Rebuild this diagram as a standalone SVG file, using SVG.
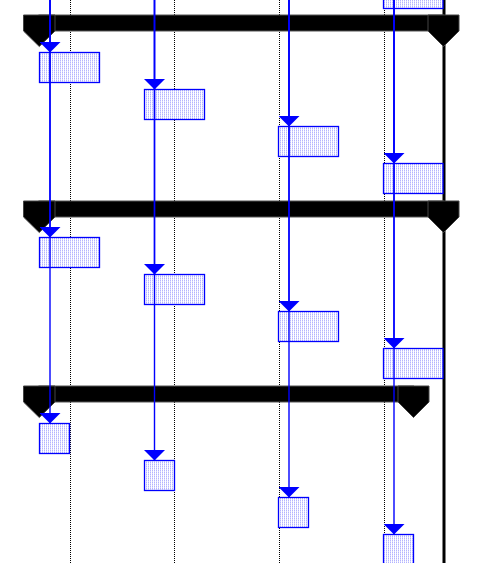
<svg xmlns="http://www.w3.org/2000/svg" width="477" height="563" viewBox="0 0 477 563">
<defs>
<pattern id="dots" width="2" height="2" patternUnits="userSpaceOnUse">
<rect width="2" height="2" fill="#ffffff"/>
<rect width="1" height="1" fill="#b4b4ff"/>
<rect y="1" width="1" height="1" fill="#dadaff"/>
</pattern>
<marker id="ah" viewBox="0 0 10.5 21" refX="10.5" refY="10.5" markerWidth="10.5" markerHeight="21" markerUnits="userSpaceOnUse" orient="auto">
<path d="M0,0 L10.5,10.5 L0,21 Z" fill="#0000ff"/>
</marker>
</defs>
<style>
.grid{stroke:#000;stroke-width:1;stroke-dasharray:1 1;fill:none}
.task{fill:url(#dots);stroke:#0000ff;stroke-width:1.3}
.bar{fill:#000;stroke:#555;stroke-width:1}
.cap{fill:#000;stroke:#444;stroke-width:1}
.conn{stroke:#0000ff;stroke-width:1.4;fill:none;marker-end:url(#ah)}
</style>
<rect width="477" height="563" fill="#ffffff"/>
<g id="grid">
<line class="grid" x1="70.5" y1="0" x2="70.5" y2="563"/>
<line class="grid" x1="174.5" y1="0" x2="174.5" y2="563"/>
<line class="grid" x1="279.5" y1="0" x2="279.5" y2="563"/>
<line class="grid" x1="384.5" y1="0" x2="384.5" y2="563"/>
</g>
<g id="deadline">
<line x1="444" y1="0" x2="444" y2="563" stroke="#000" stroke-width="3"/>
</g>
<g id="summary1">
<rect class="bar" x="39" y="15" width="404.5" height="16"/>
<polygon class="cap" points="23.5,15 55,15 55,31 39.25,46.5 23.5,31"/>
<polygon class="cap" points="428,15 459,15 459,31 443.5,46.5 428,31"/>
</g>
<g id="summary2">
<rect class="bar" x="39" y="201" width="404.5" height="16"/>
<polygon class="cap" points="23.5,201 55,201 55,217 39.25,232.5 23.5,217"/>
<polygon class="cap" points="428,201 459,201 459,217 443.5,232.5 428,217"/>
</g>
<g id="summary3">
<rect class="bar" x="39" y="386" width="374.5" height="16"/>
<polygon class="cap" points="23.5,386 55,386 55,402 39.25,417.5 23.5,402"/>
<polygon class="cap" points="398,386 429,386 429,402 413.5,417.5 398,402"/>
</g>
<g id="task0-4"><rect class="task" x="383.5" y="-21.5" width="59.5" height="30"/></g>
<g id="task1-1"><rect class="task" x="39.5" y="52.5" width="60" height="30"/></g>
<g id="task1-2"><rect class="task" x="144.5" y="89.5" width="60" height="30"/></g>
<g id="task1-3"><rect class="task" x="278.5" y="126.5" width="60" height="30"/></g>
<g id="task1-4"><rect class="task" x="383.5" y="163.5" width="59.5" height="30"/></g>
<g id="task2-1"><rect class="task" x="39.5" y="237.5" width="60" height="30"/></g>
<g id="task2-2"><rect class="task" x="144.5" y="274.5" width="60" height="30"/></g>
<g id="task2-3"><rect class="task" x="278.5" y="311.5" width="60" height="30"/></g>
<g id="task2-4"><rect class="task" x="383.5" y="348.5" width="59.5" height="30"/></g>
<g id="task3-1"><rect class="task" x="39.5" y="423.5" width="30" height="30"/></g>
<g id="task3-2"><rect class="task" x="144.5" y="460.5" width="30" height="30"/></g>
<g id="task3-3"><rect class="task" x="278.5" y="497.5" width="30" height="30"/></g>
<g id="task3-4"><rect class="task" x="383.5" y="534.5" width="30" height="30"/></g>
<g id="connectors">
<line class="conn" x1="50" y1="0" x2="50" y2="52.5"/>
<line class="conn" x1="50" y1="0" x2="50" y2="237.5"/>
<line class="conn" x1="50" y1="0" x2="50" y2="423.5"/>
<line class="conn" x1="154.5" y1="0" x2="154.5" y2="89.5"/>
<line class="conn" x1="154.5" y1="0" x2="154.5" y2="274.5"/>
<line class="conn" x1="154.5" y1="0" x2="154.5" y2="460.5"/>
<line class="conn" x1="289" y1="0" x2="289" y2="126.5"/>
<line class="conn" x1="289" y1="0" x2="289" y2="311.5"/>
<line class="conn" x1="289" y1="0" x2="289" y2="497.5"/>
<line class="conn" x1="394" y1="0" x2="394" y2="163.5"/>
<line class="conn" x1="394" y1="0" x2="394" y2="348.5"/>
<line class="conn" x1="394" y1="0" x2="394" y2="534.5"/>
</g>
</svg>
